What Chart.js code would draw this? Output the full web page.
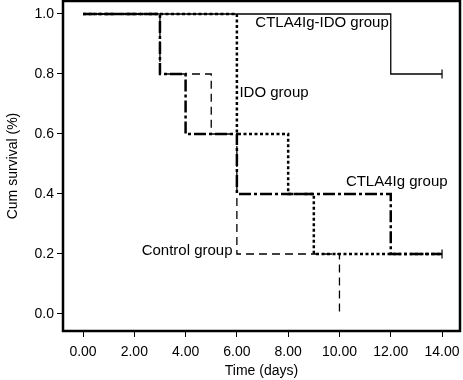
<!DOCTYPE html>
<html>
<head>
<meta charset="utf-8">
<script src="https://cdn.jsdelivr.net/npm/chart.js@4/dist/chart.umd.min.js"></script>
<style>
  html, body { margin: 0; padding: 0; background: #fff; }
  #wrap { width: 463px; height: 380px; }
</style>
</head>
<body>
<div id="wrap"><canvas id="km" width="463" height="380"></canvas></div>
<script>
  // Kaplan-Meier step points (time in days, cumulative survival)
  const ctlaX = [0, 3, 4, 6, 12, 14];
  const ctlaY = [1.0, 0.8, 0.6, 0.4, 0.2, 0.2];

  const idoX = [0, 6, 8, 9, 14];
  const idoY = [1.0, 0.6, 0.4, 0.2, 0.2];

  const controlX = [0, 3, 5, 6, 10];
  const controlY = [1.0, 0.8, 0.6, 0.2, 0.0];

  const comboX = [0, 12, 14];
  const comboY = [1.0, 0.8, 0.8];

  // censored observations
  const censorX = [14, 14];
  const censorY = [0.8, 0.2];

  const xTicks = [0, 2, 4, 6, 8, 10, 12, 14];
  const yTicks = [0.0, 0.2, 0.4, 0.6, 0.8, 1.0];

  // group labels placed next to the curves (data units)
  const groupLabels = [
    { text: 'CTLA4Ig-IDO group', x: 6.72, y: 0.97, align: 'left' },
    { text: 'IDO group', x: 6.1, y: 0.737, align: 'left' },
    { text: 'CTLA4Ig group', x: 10.25, y: 0.44, align: 'left' },
    { text: 'Control group', x: 5.83, y: 0.21, align: 'right' }
  ];

  function toPoints(xs, ys) {
    return xs.map(function (x, i) { return { x: x, y: ys[i] }; });
  }

  const FONT = "'Liberation Sans', Arial, sans-serif";

  const framePlugin = {
    id: 'frame',
    afterDraw: function (chart) {
      const a = chart.chartArea;
      const ctx = chart.ctx;
      ctx.save();
      ctx.strokeStyle = '#000';
      ctx.lineWidth = 2.5;
      ctx.strokeRect(a.left, a.top, a.right - a.left, a.bottom - a.top);
      ctx.restore();
    }
  };

  const labelPlugin = {
    id: 'groupLabels',
    afterDatasetsDraw: function (chart) {
      const ctx = chart.ctx;
      const xs = chart.scales.x, ys = chart.scales.y;
      ctx.save();
      ctx.fillStyle = '#000';
      ctx.font = '15px ' + FONT;
      ctx.textBaseline = 'middle';
      groupLabels.forEach(function (l) {
        ctx.textAlign = l.align;
        ctx.fillText(l.text, xs.getPixelForValue(l.x), ys.getPixelForValue(l.y));
      });
      ctx.restore();
    }
  };

  new Chart(document.getElementById('km'), {
    type: 'line',
    data: {
      datasets: [
        {
          label: 'CTLA4Ig group',
          data: toPoints(ctlaX, ctlaY),
          stepped: true,
          borderColor: '#000',
          borderWidth: 2.5,
          borderDash: [12, 3, 3, 3],
          pointRadius: 0,
          fill: false
        },
        {
          label: 'IDO group',
          data: toPoints(idoX, idoY),
          stepped: true,
          borderColor: '#000',
          borderWidth: 2.5,
          borderDash: [3, 2.5],
          pointRadius: 0,
          fill: false
        },
        {
          label: 'Control group',
          data: toPoints(controlX, controlY),
          stepped: true,
          borderColor: '#000',
          borderWidth: 1.3,
          borderDash: [8, 5],
          pointRadius: 0,
          fill: false
        },
        {
          label: 'CTLA4Ig-IDO group',
          data: toPoints(comboX, comboY),
          stepped: true,
          borderColor: '#000',
          borderWidth: 1.3,
          pointRadius: 0,
          fill: false
        },
        {
          label: 'censored',
          data: toPoints(censorX, censorY),
          showLine: false,
          pointStyle: 'line',
          rotation: 90,
          pointRadius: 4.5,
          borderColor: '#000',
          borderWidth: 1.2
        }
      ]
    },
    options: {
      responsive: false,
      animation: false,
      events: [],
      layout: { autoPadding: false, padding: { top: 1, right: 3, bottom: 0, left: 0 } },
      plugins: {
        legend: { display: false },
        tooltip: { enabled: false }
      },
      scales: {
        x: {
          type: 'linear',
          min: -0.78,
          max: 14.7,
          afterFit: function (s) {
            s.height = 49;
            s.paddingLeft = 0; s.paddingRight = 0;
          },
          afterBuildTicks: function (s) {
            s.ticks = xTicks.map(function (v) { return { value: v }; });
          },
          border: { display: false },
          grid: { drawOnChartArea: false, drawTicks: true, tickLength: 6, color: '#000', lineWidth: 1 },
          ticks: {
            color: '#000',
            font: { family: FONT, size: 14 },
            padding: 7,
            maxRotation: 0,
            callback: function (v) { return Number(v).toFixed(2); }
          },
          title: {
            display: true,
            text: 'Time (days)',
            color: '#000',
            font: { family: FONT, size: 14 },
            padding: { top: 0, bottom: 0 }
          }
        },
        y: {
          type: 'linear',
          min: -0.0567,
          max: 1.0433,
          afterFit: function (s) {
            s.width = 63;
            s.paddingTop = 0; s.paddingBottom = 0;
          },
          afterBuildTicks: function (s) {
            s.ticks = yTicks.map(function (v) { return { value: v }; });
          },
          border: { display: false },
          grid: { drawOnChartArea: false, drawTicks: true, tickLength: 6, color: '#000', lineWidth: 1 },
          ticks: {
            color: '#000',
            font: { family: FONT, size: 14 },
            padding: 3,
            callback: function (v) { return Number(v).toFixed(1); }
          },
          title: {
            display: true,
            text: 'Cum survival (%)',
            color: '#000',
            font: { family: FONT, size: 14 },
            padding: { top: 5, bottom: 0 }
          }
        }
      }
    },
    plugins: [framePlugin, labelPlugin]
  });
</script>
</body>
</html>
